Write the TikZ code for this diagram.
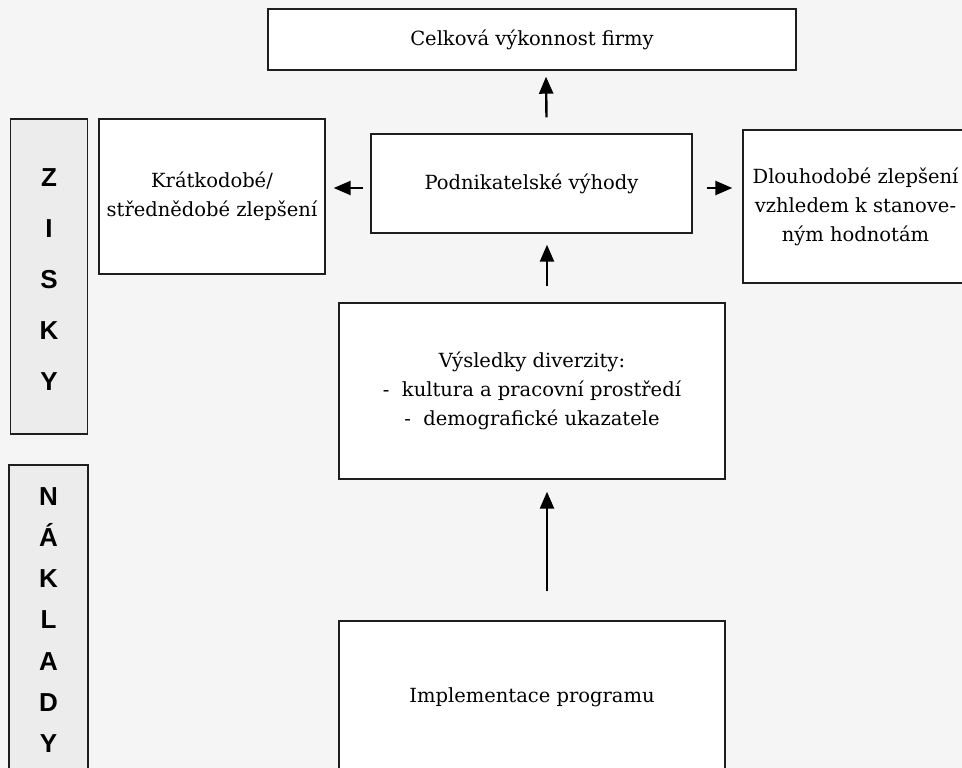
\documentclass[tikz,border=0pt]{standalone}
\usepackage{fontspec}
\setmainfont{DejaVu Serif}
\newfontfamily\letterfont{Liberation Sans}
\usetikzlibrary{arrows.meta}

\definecolor{pagegray}{HTML}{F4F5F4}
\definecolor{sidegray}{HTML}{ECECEC}
\definecolor{edgegray}{HTML}{1E1E1E}

\begin{document}
\begin{tikzpicture}[x=1pt, y=-1pt,
        box/.style={draw=edgegray, line width=1.4pt, fill=white, align=center, inner sep=0pt,
            font=\fontsize{19.5}{29}\selectfont},
        sidebox/.style={draw=edgegray, line width=1.2pt, fill=sidegray, inner sep=0pt},
        letter/.style={font=\letterfont\bfseries\fontsize{26}{26}\selectfont, inner sep=0pt, anchor=base},
        arr/.style={line width=2.4pt, -{Triangle[length=17pt, width=14pt]}}]
        \useasboundingbox (0,0) rectangle (962,768);
        \clip (0,0) rectangle (962,768);
        \fill[pagegray] (0,0) rectangle (962,768);

        % boxes
        \node[box, minimum width=528pt, minimum height=61pt] (celk) at (532,39.5) {Celková výkonnost firmy};
        \node[box, minimum width=321pt, minimum height=99pt] (podnik) at (531.5,183.5) {Podnikatelské výhody};
        \node[box, minimum width=226pt, minimum height=155pt] (kratk) at (212,196.5) {Krátkodobé/\\střednědobé zlepšení};
        \node[box, minimum width=225pt, minimum height=153pt] (dlouh) at (855.5,206.5) {Dlouhodobé zlepšení\\vzhledem k stanove-\\ným hodnotám};
        \node[box, minimum width=386pt, minimum height=176pt] (vysl) at (532,391) {Výsledky diverzity:\\-\ \ kultura a pracovní prostředí\\-\ \ demografické ukazatele};
        \node[box, minimum width=386pt, minimum height=152pt] (impl) at (532,697) {Implementace programu};

        % side bars
        \node[sidebox, minimum width=77pt, minimum height=315pt] (zisky) at (49,276.5) {};
        \node[sidebox, minimum width=79pt, minimum height=320pt] (naklady) at (48.5,625) {};
        \foreach \ch [count=\i from 0] in {Z,I,S,K,Y} {
            \node[letter] (zisky\i) at (49, 186+51*\i) {\ch};
        }
        \foreach \ch [count=\i from 0] in {N,Á,K,L,A,D,Y} {
            \node[letter] (naklady\i) at (48.5, 505+41.3*\i) {\ch};
        }

        % arrows
        \draw[arr] ([xshift=15pt, yshift=16pt]podnik.north) -- ([xshift=14pt, yshift=-6pt]celk.south);
        \draw[arr] ([xshift=15pt, yshift=16pt]vysl.north) -- ([xshift=15.5pt, yshift=-11pt]podnik.south);
        \draw[arr] ([xshift=15pt, yshift=29pt]impl.north) -- ([xshift=15pt, yshift=-12pt]vysl.south);
        \draw[arr] ([xshift=-7pt, yshift=-4.5pt]podnik.west) -- ([xshift=8pt, yshift=-4.5pt]podnik.west -| kratk.east);
        \draw[arr] ([xshift=14pt, yshift=-4.5pt]podnik.east) -- ([xshift=-10pt, yshift=-4.5pt]podnik.east -| dlouh.west);
    \end{tikzpicture}
\end{document}
